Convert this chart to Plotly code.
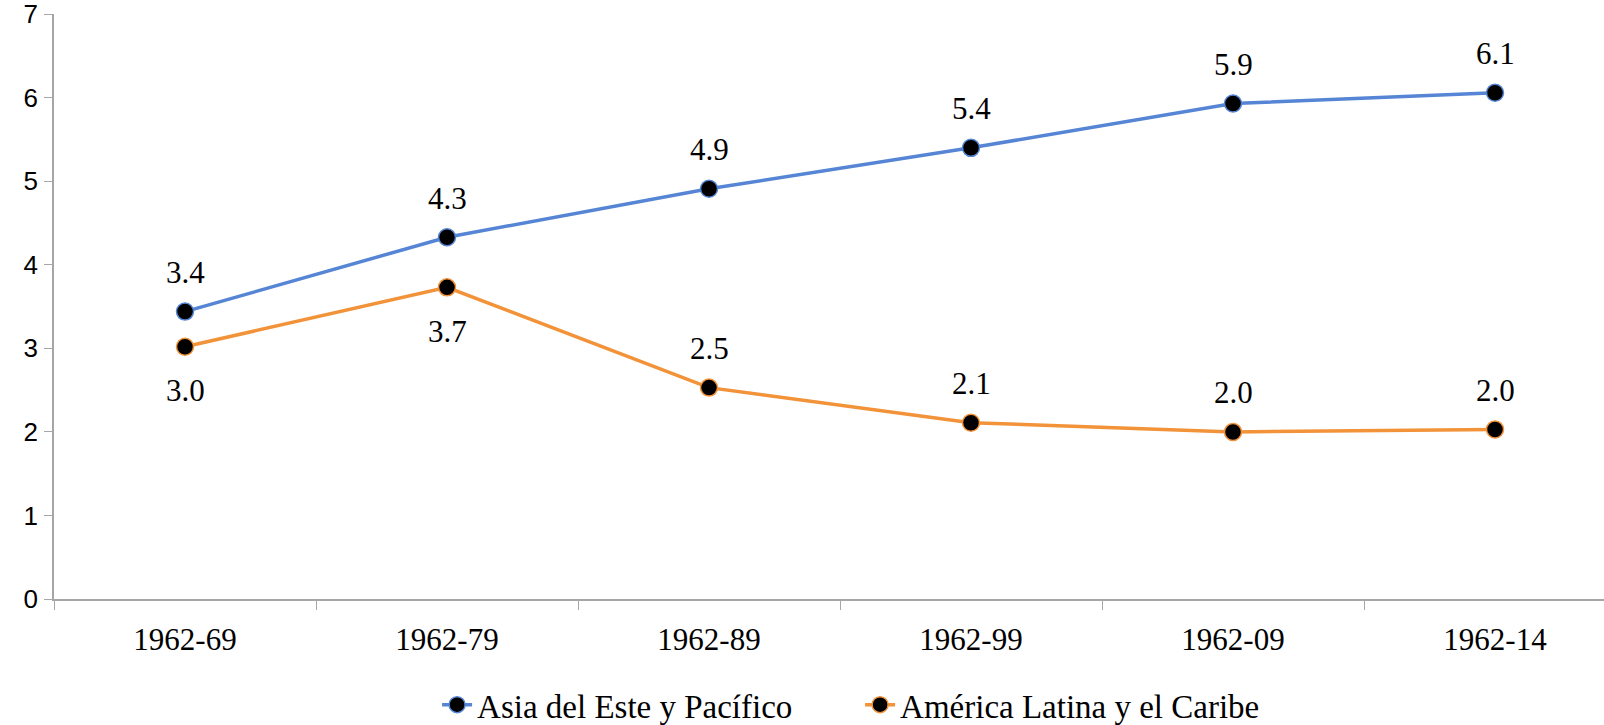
import plotly.graph_objects as go

# Periods and average values per region
periods = ["1962-69", "1962-79", "1962-89", "1962-99", "1962-09", "1962-14"]
asia_pacifico = [3.44, 4.33, 4.91, 5.40, 5.93, 6.06]
america_latina = [3.02, 3.73, 2.53, 2.11, 2.00, 2.03]
# Where each value label sits relative to its point
asia_label_side = ["above"] * 6
latam_label_side = ["below", "below", "above", "above", "above", "above"]
y_ticks = [0, 1, 2, 3, 4, 5, 6, 7]

BLUE = "#5585d4"
ORANGE = "#f29239"
AXIS_GREY = "#a6a6a6"
SERIF = "Liberation Serif, Times New Roman, serif"
SANS = "Liberation Sans, Arial, sans-serif"

fig = go.Figure()

for name, values, color in [
    ("Asia del Este y Pacífico", asia_pacifico, BLUE),
    ("América Latina y el Caribe", america_latina, ORANGE),
]:
    fig.add_trace(go.Scatter(
        x=periods, y=values, name=name, mode="lines+markers",
        line=dict(color=color, width=3.5),
        marker=dict(size=17, color="black", line=dict(color=color, width=1.5)),
        hoverinfo="skip",
    ))

# Value labels above / below the points
annotations = []
for values, sides in [(asia_pacifico, asia_label_side), (america_latina, latam_label_side)]:
    for p, v, side in zip(periods, values, sides):
        annotations.append(dict(
            x=p, y=v, xref="x", yref="y", text=f"{v:.1f}", showarrow=False,
            xanchor="center", yanchor="middle",
            yshift=39 if side == "above" else -44,
            font=dict(family=SERIF, size=31, color="black"),
        ))

fig.update_layout(
    width=1604, height=725,
    margin=dict(l=54, r=0, t=14, b=126),
    paper_bgcolor="white", plot_bgcolor="white",
    showlegend=True,
    legend=dict(
        orientation="h", xref="container", yref="container",
        x=0.2725, y=0.028, xanchor="left", yanchor="middle",
        font=dict(family=SERIF, size=33, color="black"),
        bgcolor="rgba(0,0,0,0)", itemwidth=30, tracegroupgap=0,
        entrywidth=378, entrywidthmode="pixels",
    ),
    annotations=annotations,
    xaxis=dict(
        type="category", categoryorder="array", categoryarray=periods,
        range=[-0.5, 5.416], tickson="boundaries",
        ticks="outside", ticklen=9, tickwidth=1, tickcolor=AXIS_GREY,
        showline=True, linecolor=AXIS_GREY, linewidth=1.5,
        showgrid=False, zeroline=False,
        tickfont=dict(family=SERIF, size=31, color="black"),
        ticklabelstandoff=12,
    ),
    yaxis=dict(
        range=[0, 7.002], tickvals=y_ticks, ticks="outside", ticklen=8,
        tickwidth=1, tickcolor=AXIS_GREY,
        showline=True, linecolor=AXIS_GREY, linewidth=1.5,
        showgrid=False, zeroline=False,
        tickfont=dict(family=SANS, size=26, color="black"),
        ticklabelstandoff=1, ticklabeloverflow="allow",
    ),
)

fig.write_html("out.html")
